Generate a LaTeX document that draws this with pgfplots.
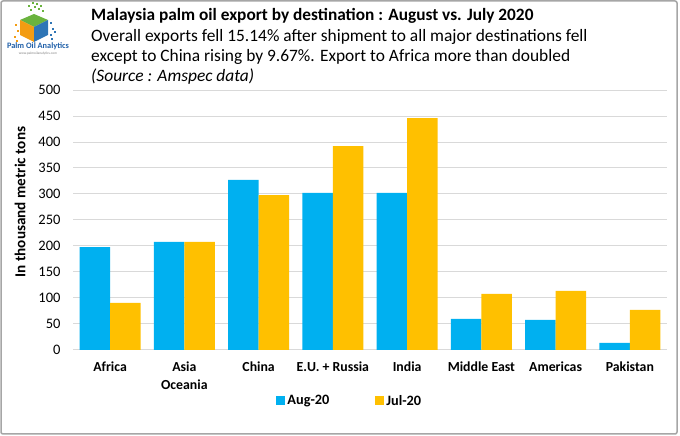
\documentclass[border=0pt]{standalone}
\usepackage{fontspec}
\setmainfont{Carlito}
\usepackage{pgfplots}
\usepackage{pgfplotstable}
\pgfplotsset{compat=1.18}
\definecolor{augblue}{RGB}{0,176,240}
\definecolor{julgold}{RGB}{255,192,0}
\definecolor{gridgray}{RGB}{217,217,217}
\definecolor{framegray}{RGB}{166,166,166}
\definecolor{logogreen}{RGB}{106,179,62}
\definecolor{logoorange}{RGB}{243,156,18}
\definecolor{logoblue}{RGB}{46,117,182}
\definecolor{logotext}{RGB}{31,95,168}

\pgfplotstableread{
x val
0 198
1 208
2 327
3 302
4 302
5 60
6 58
7 13.5
}\augdata
\pgfplotstableread{
x val
0 90.5
1 208
2 298
3 392
4 446
5 108
6 113.5
7 77
}\juldata

\begin{document}
\begin{tikzpicture}[x=1pt,y=1pt]
\path[use as bounding box] (0,0) rectangle (680,436);
\draw[framegray, line width=1.5pt, rounded corners=2pt] (1,2) rectangle (677,435);
% logo
\fill[logogreen] (34,422) -- (48,416) -- (34,409) -- (20,416) -- cycle;
\fill[logoorange] (20,416) -- (34,409) -- (34,394) -- (20,401) -- cycle;
\fill[logoblue] (34,409) -- (48,416) -- (48,401) -- (34,394) -- cycle;
\foreach \p in {(30,425),(34,428),(38,426),(28,429),(36,431),(40,429),(32,432),(42,424)}
  \fill[logogreen] \p rectangle ++(2,2);
\foreach \p in {(50,412),(52,406),(50,400),(54,403),(51,396)}
  \fill[logoblue] \p rectangle ++(2,2);
\foreach \p in {(15,410),(17,404),(14,398),(16,394)}
  \fill[logoorange] \p rectangle ++(2,2);
\node[font=\bfseries\fontsize{8.3}{9}\selectfont, text=logotext] at (38,390) {Palm Oil Analytics};
\node[font=\fontsize{3.5}{4}\selectfont, text=gray] at (38,382) {www.palmoilanalytics.com};
% titles
\node[anchor=west, inner sep=0pt, font=\bfseries\fontsize{17.3}{20}\selectfont] at (91,420) {Malaysia palm oil export by destination : August vs. July 2020};
\node[anchor=west, inner sep=0pt, font=\fontsize{17.4}{20}\selectfont] at (91,399) {Overall exports fell 15.14\% after shipment to all major destinations fell};
\node[anchor=west, inner sep=0pt, font=\fontsize{17.4}{20}\selectfont] at (91,379) {except to China rising by 9.67\%. Export to Africa more than doubled};
\node[anchor=west, inner sep=0pt, font=\itshape\fontsize{17.4}{20}\selectfont] at (91,359) {(Source : Amspec data)};
% y label
\node[rotate=90, font=\bfseries\fontsize{15.2}{18}\selectfont] at (20,234) {In thousand metric tons};
\begin{axis}[
  at={(73pt,86pt)}, anchor=south west,
  scale only axis, width=594pt, height=260pt,
  ybar=0pt, bar width=30.5pt,
  xmin=-0.5, xmax=7.5, ymin=0, ymax=500,
  ytick={0,50,...,500},
  xtick={0,...,7},
  xticklabels={Africa, {Asia\\Oceania}, China, {E.U. + Russia}, India, {Middle East}, Americas, Pakistan},
  /pgf/number format/assume math mode=true,
  axis line style={draw=none},
  major tick length=0pt,
  ymajorgrids, grid style={gridgray, line width=1pt},
  yticklabel style={font=\fontsize{14.5}{16}\selectfont, xshift=-9pt},
  xticklabel style={font=\bfseries\fontsize{13.8}{18}\selectfont, align=center, yshift=-8pt},
  legend style={at={(0.466,-0.196)}, anchor=center, draw=none, fill=none,
    legend columns=2, font=\bfseries\fontsize{14.3}{16}\selectfont,
    /tikz/every even column/.append style={column sep=44pt}},
  legend image code/.code={\fill[#1] (0pt,-4.5pt) rectangle (9pt,4.5pt);},
  clip=false,
]
\addplot[fill=augblue, draw=none] table[x=x, y=val] {\augdata};
\addplot[fill=julgold, draw=none] table[x=x, y=val] {\juldata};
\legend{Aug-20, Jul-20}
\end{axis}
\end{tikzpicture}
\end{document}
